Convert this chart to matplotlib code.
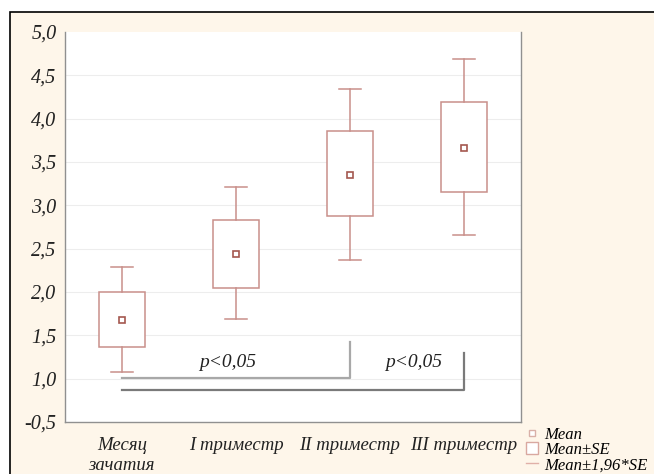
import matplotlib.pyplot as plt
import matplotlib.patches as mpatches
from matplotlib.lines import Line2D

categories = ["Месяц\nзачатия", "I триместр", "II триместр", "III триместр"]
means = [1.68, 2.44, 3.35, 3.66]
se_low = [1.37, 2.05, 2.88, 3.15]
se_high = [2.00, 2.83, 3.86, 4.19]
ci_low = [1.08, 1.69, 2.37, 2.66]
ci_high = [2.29, 3.21, 4.34, 4.69]
yticks = [0.5, 1.0, 1.5, 2.0, 2.5, 3.0, 3.5, 4.0, 4.5, 5.0]
ytick_labels = ["-0,5", "1,0", "1,5", "2,0", "2,5", "3,0", "3,5", "4,0", "4,5", "5,0"]

box_col = "#c98f8a"
mean_col = "#a4584f"
cream = "#fef6ea"
font = ["Liberation Serif", "DejaVu Serif"]

fig = plt.figure(figsize=(6.54, 4.74), dpi=100)
fig.patch.set_facecolor("white")
# cream frame with black border at top/left
frame = mpatches.Rectangle((10 / 654, -0.01), 1.0, 1 - 12 / 474 + 0.01,
                           transform=fig.transFigure, facecolor=cream,
                           edgecolor="black", linewidth=1.2, zorder=-5)
fig.patches.append(frame)

ax = fig.add_axes([65 / 654, 1 - 422 / 474, (521 - 65) / 654, (422 - 32) / 474])
ax.set_facecolor("white")
ax.set_xlim(-0.5, 3.5)
ax.set_ylim(0.5, 5.0)

for y in yticks[1:-1]:
    ax.axhline(y, color="#ededed", linewidth=0.8, zorder=1)

x = list(range(len(categories)))
bw = 0.4
cw = 0.2
for i in x:
    ax.add_patch(mpatches.Rectangle((i - bw / 2, se_low[i]), bw, se_high[i] - se_low[i],
                                    facecolor="white", edgecolor=box_col, linewidth=1.1, zorder=3))
    ax.plot([i, i], [se_high[i], ci_high[i]], color=box_col, lw=1.1, zorder=3)
    ax.plot([i, i], [ci_low[i], se_low[i]], color=box_col, lw=1.1, zorder=3)
    ax.plot([i - cw / 2, i + cw / 2], [ci_high[i]] * 2, color=box_col, lw=1.1, zorder=3)
    ax.plot([i - cw / 2, i + cw / 2], [ci_low[i]] * 2, color=box_col, lw=1.1, zorder=3)
ax.plot(x, means, linestyle="none", marker="s", markersize=5, markerfacecolor="white",
        markeredgecolor=mean_col, markeredgewidth=1.2, zorder=4)

# significance brackets
ax.plot([0, 2, 2], [1.01, 1.01, 1.42], color="#a8a8a8", lw=1.6, zorder=2)
ax.plot([0, 3, 3], [0.87, 0.87, 1.30], color="#7a7a7a", lw=1.6, zorder=2)
ax.text(0.93, 1.19, "p<0,05", ha="center", va="center", fontsize=14,
        family=font, style="italic", color="#222222")
ax.text(2.56, 1.19, "p<0,05", ha="center", va="center", fontsize=14,
        family=font, style="italic", color="#222222")

ax.spines["top"].set_visible(False)
for s in ["left", "right", "bottom"]:
    ax.spines[s].set_color("#909090")
    ax.spines[s].set_linewidth(1.0)

ax.set_yticks(yticks)
ax.set_yticklabels(ytick_labels, fontsize=14.5, family=font, style="italic", color="#222222")
ax.set_xticks(x)
ax.set_xticklabels(categories, fontsize=13.5, family=font, style="italic",
                   color="#222222", linespacing=1.2)
ax.tick_params(axis="y", length=0, pad=6)
ax.tick_params(axis="x", length=0, pad=11)

# legend
handles = [
    Line2D([], [], linestyle="none", marker="s", markersize=4, markerfacecolor="white",
           markeredgecolor="#d9b0a8"),
    mpatches.Rectangle((0, 0), 1, 1, facecolor="white", edgecolor="#d9a8a0"),
    Line2D([], [], color="#e0b0a8", lw=1),
]
leg = fig.legend(handles, ["Mean", "Mean±SE", "Mean±1,96*SE"],
                 loc="lower left", bbox_to_anchor=(518 / 654, -0.016), frameon=False,
                 prop={"family": font, "style": "italic", "size": 12},
                 handlelength=0.7, handletextpad=0.4, labelspacing=-0.05,
                 borderaxespad=0.1)

fig.savefig("out.png", dpi=100, facecolor=fig.get_facecolor())
